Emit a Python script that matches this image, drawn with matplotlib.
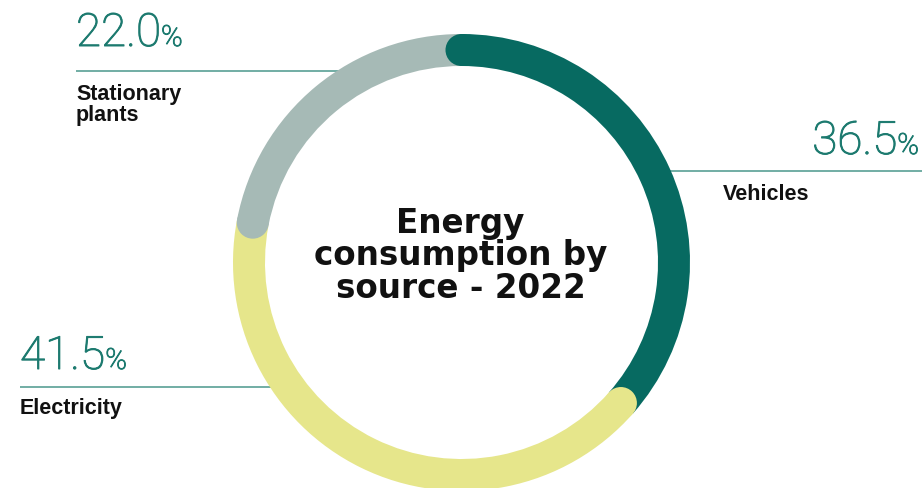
import matplotlib
matplotlib.use("Agg")
import matplotlib.pyplot as plt
from matplotlib.patches import Wedge, Circle
import matplotlib.patheffects as pe
import numpy as np

# Energy consumption shares, 2022 (clockwise from 12 o'clock)
sources = ["Vehicles", "Electricity", "Stationary\nplants"]
shares = [36.5, 41.5, 22.0]
colors = ["#076a61", "#e6e68b", "#a6bab6"]

TEAL = "#1c7a6f"
RULE = "#4a978c"
INK = "#111111"

W, H = 922, 489
fig = plt.figure(figsize=(W / 100, H / 100), dpi=100)
ax = fig.add_axes([0, 0, 1, 1])
ax.set_xlim(0, W)
ax.set_ylim(0, H)
ax.set_aspect("equal")
ax.axis("off")

cx, cy = 461.5, H - 263.5
r_out, band = 228.5, 32
r_mid = r_out - band / 2

# ring segments
total = sum(shares)
starts = np.concatenate([[0], np.cumsum(shares)[:-1]]) / total
ends = np.cumsum(shares) / total
for s, e, c in zip(starts, ends, colors):
    ax.add_patch(Wedge((cx, cy), r_out, 90 - 360 * e, 90 - 360 * s,
                       width=band, facecolor=c, edgecolor="none", zorder=3))
# rounded start of each segment laps over the one before it
for s, c in zip(starts, colors):
    a = np.deg2rad(90 - 360 * s)
    ax.add_patch(Circle((cx + r_mid * np.cos(a), cy + r_mid * np.sin(a)),
                        band / 2, facecolor=c, edgecolor="none", zorder=4))

# centre title
ax.text(cx - 1, H - 256, "Energy\nconsumption by\nsource - 2022",
        ha="center", va="center", fontsize=23.5, fontweight="bold",
        family="DejaVu Sans", color=INK, linespacing=0.98, zorder=5)

renderer = fig.canvas.get_renderer()
thicken = [pe.withStroke(linewidth=0.7, foreground=TEAL)]


def pct_label(value, x, baseline, align):
    num_kw = dict(fontsize=33, family="Roboto", fontweight="light",
                  color=TEAL, va="baseline", zorder=5, path_effects=thicken)
    pct_kw = dict(fontsize=21, family="Roboto", fontweight="light",
                  color=TEAL, va="baseline", zorder=5, path_effects=thicken)
    num = f"{value:.1f}"
    if align == "left":
        t = ax.text(x, baseline, num, ha="left", **num_kw)
        bb = t.get_window_extent(renderer)
        ax.text(bb.x1, baseline, "%", ha="left", **pct_kw)
    else:
        p = ax.text(x, baseline, "%", ha="right", **pct_kw)
        bb = p.get_window_extent(renderer)
        ax.text(bb.x0, baseline, num, ha="right", **num_kw)


def rule(y, x0, side):
    dy = (H - y) - cy
    dx = np.sqrt(r_mid ** 2 - dy ** 2)
    x1 = cx - dx if side == "left" else cx + dx
    ax.plot([x0, x1], [H - y, H - y], color=RULE, lw=1.1,
            solid_capstyle="butt", zorder=2)


lab_kw = dict(fontsize=15.5, fontweight="bold", family="Liberation Sans",
              color=INK, va="baseline", ha="left", linespacing=1.0, zorder=5)

# Stationary plants (top left); baseline given for the last line
pct_label(shares[2], 76, H - 47, "left")
rule(72, 76, "left")
ax.text(76, H - 121, sources[2], **lab_kw)

# Vehicles (right)
pct_label(shares[0], 919, H - 155, "right")
rule(172, W, "right")
ax.text(723, H - 200, sources[0], **lab_kw)

# Electricity (bottom left)
pct_label(shares[1], 20, H - 370, "left")
rule(388, 20, "left")
ax.text(20, H - 414, sources[1], **lab_kw)

fig.savefig("out.png", dpi=100, facecolor="white")
